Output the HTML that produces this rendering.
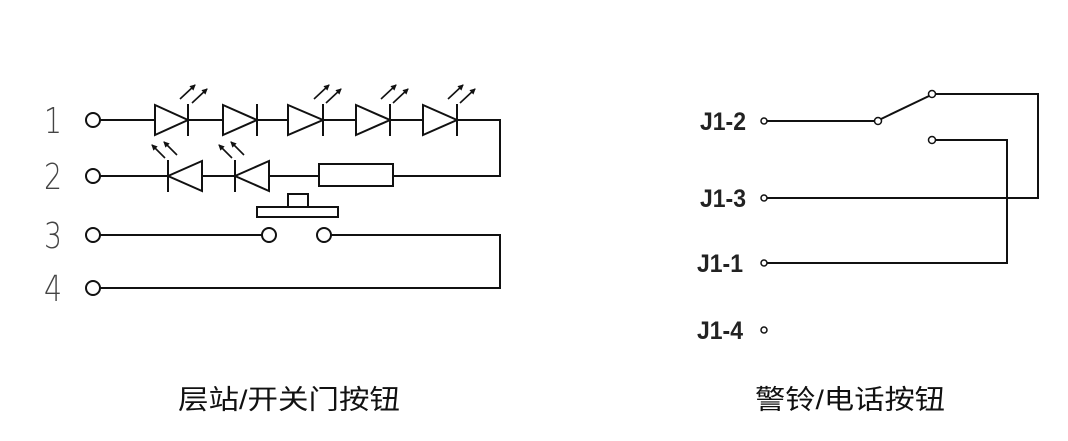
<!DOCTYPE html>
<html><head><meta charset="utf-8"><style>
html,body{margin:0;padding:0;background:#fff;}
body{width:1068px;height:441px;overflow:hidden;position:relative;}
svg{position:absolute;left:0;top:0;}
</style></head><body>
<svg width="1068" height="441" viewBox="0 0 1068 441" xmlns="http://www.w3.org/2000/svg">
<defs>
<marker id="ah" markerWidth="6" markerHeight="6" refX="5" refY="3" orient="auto" markerUnits="userSpaceOnUse"><path d="M0,0 L6,3 L0,6 z" fill="#111"/></marker>
</defs>
<g stroke="#111" stroke-width="2" fill="none">
<circle cx="93" cy="120" r="7" fill="#fff"/>
<circle cx="93" cy="176" r="7" fill="#fff"/>
<circle cx="93" cy="235" r="7" fill="#fff"/>
<circle cx="93" cy="288" r="7" fill="#fff"/>
<line x1="100" y1="120" x2="500" y2="120"/>
<line x1="500" y1="119" x2="500" y2="177"/>
<g fill="#fff">
<polygon points="155,105 188,120 155,135"/>
<polygon points="223,105 257,120 223,135"/>
<polygon points="288,105 323,120 288,135"/>
<polygon points="356,105 390,120 356,135"/>
<polygon points="423,105 457,120 423,135"/>
</g>
<line x1="188" y1="104" x2="188" y2="136"/>
<line x1="257" y1="104" x2="257" y2="136"/>
<line x1="323" y1="104" x2="323" y2="136"/>
<line x1="390" y1="104" x2="390" y2="136"/>
<line x1="457" y1="104" x2="457" y2="136"/>
<line x1="100" y1="176" x2="500" y2="176"/>
<g fill="#fff">
<polygon points="168,176 202,161 202,191"/>
<polygon points="235,176 269,161 269,191"/>
<rect x="319" y="164" width="74" height="22"/>
</g>
<line x1="168" y1="160" x2="168" y2="192"/>
<line x1="235" y1="160" x2="235" y2="192"/>
<rect x="288" y="194" width="20" height="13" fill="#fff"/>
<rect x="257" y="207" width="81" height="10" fill="#fff"/>
<line x1="100" y1="235" x2="262" y2="235"/>
<line x1="331" y1="235" x2="500" y2="235"/>
<line x1="500" y1="234" x2="500" y2="289"/>
<line x1="100" y1="288" x2="500" y2="288"/>
<circle cx="269" cy="235" r="7" fill="#fff"/>
<circle cx="324" cy="235" r="7" fill="#fff"/>
</g>
<g stroke="#111" stroke-width="1.6" marker-end="url(#ah)">
<line x1="180" y1="99" x2="195" y2="85"/><line x1="192" y1="103" x2="207" y2="89"/>
<line x1="314" y1="99" x2="329" y2="85"/><line x1="326" y1="103" x2="341" y2="89"/>
<line x1="381" y1="99" x2="396" y2="85"/><line x1="393" y1="103" x2="408" y2="89"/>
<line x1="448" y1="99" x2="463" y2="85"/><line x1="460" y1="103" x2="475" y2="89"/>
<line x1="165" y1="158" x2="152" y2="145"/><line x1="177" y1="155" x2="164" y2="142"/>
<line x1="232" y1="158" x2="219" y2="145"/><line x1="244" y1="155" x2="231" y2="142"/>
</g>
<g font-family="DejaVu Sans, sans-serif" font-size="36" font-weight="200" fill="#444">
<text x="44" y="133" textLength="18" lengthAdjust="spacingAndGlyphs">1</text>
<text x="44" y="189" textLength="18" lengthAdjust="spacingAndGlyphs">2</text>
<text x="44" y="248" textLength="18" lengthAdjust="spacingAndGlyphs">3</text>
<text x="44" y="301" textLength="18" lengthAdjust="spacingAndGlyphs">4</text>
</g>
<g stroke="#111" stroke-width="2" fill="none">
<line x1="767" y1="121" x2="875" y2="121"/>
<line x1="881" y1="119" x2="929" y2="96"/>
<line x1="935" y1="94" x2="1038" y2="94"/>
<line x1="1038" y1="93" x2="1038" y2="199"/>
<line x1="767" y1="198" x2="1038" y2="198"/>
<line x1="935" y1="140" x2="1007" y2="140"/>
<line x1="1007" y1="139" x2="1007" y2="264"/>
<line x1="767" y1="263" x2="1007" y2="263"/>
</g>
<g stroke="#111" stroke-width="1.5" fill="#fff">
<circle cx="764" cy="121" r="3"/>
<circle cx="878" cy="121" r="3.5"/>
<circle cx="932" cy="94" r="3.5"/>
<circle cx="932" cy="140" r="3.5"/>
<circle cx="764" cy="198" r="3"/>
<circle cx="764" cy="263" r="3"/>
<circle cx="764" cy="330" r="3"/>
</g>
<g font-family="Liberation Sans, sans-serif" font-size="25" font-weight="bold" fill="#222">
<text x="700" y="130" textLength="46" lengthAdjust="spacingAndGlyphs">J1-2</text>
<text x="700" y="207" textLength="46" lengthAdjust="spacingAndGlyphs">J1-3</text>
<text x="697" y="272" textLength="46" lengthAdjust="spacingAndGlyphs">J1-1</text>
<text x="697" y="339" textLength="46" lengthAdjust="spacingAndGlyphs">J1-4</text>
</g>
<g font-family="Liberation Sans, 'Noto Sans CJK SC', sans-serif" font-size="27" fill="#111">
<text x="178" y="409" textLength="222" lengthAdjust="spacingAndGlyphs">层站/开关门按钮</text>
<text x="755" y="409" textLength="190" lengthAdjust="spacingAndGlyphs">警铃/电话按钮</text>
</g>
</svg>
</body></html>
